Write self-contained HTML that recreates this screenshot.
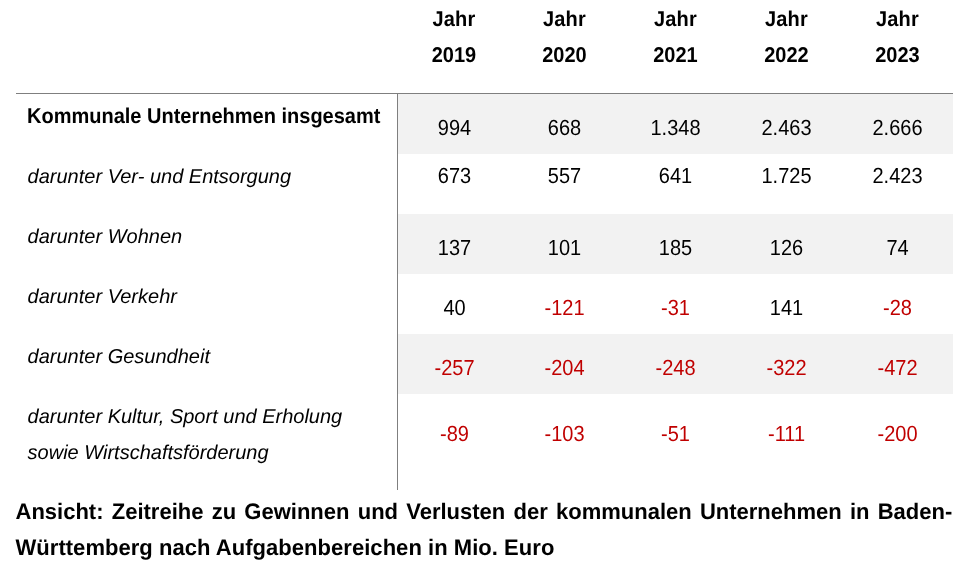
<!DOCTYPE html>
<html lang="de"><head><meta charset="utf-8"><title>Kommunale Unternehmen</title>
<style>
html,body{margin:0;padding:0;background:#fff;}
body{width:976px;height:565px;position:relative;overflow:hidden;font-family:"Liberation Sans",sans-serif;color:#000;text-rendering:geometricPrecision;}
.t{position:absolute;white-space:nowrap;font-size:20px;line-height:36px;transform-origin:0 24px;transform:scaleY(1.09);}
.c{width:120px;text-align:center;}
.b{font-weight:bold;transform:scaleY(1.07);}
.i{font-style:italic;transform:none;}
.n{color:#c00000;}
.h{letter-spacing:0.15px;}
.sh{position:absolute;left:398px;width:555px;background:#f2f2f2;}
.hl{position:absolute;left:16px;top:93px;width:937px;height:1px;background:#7f7f7f;}
.vl{position:absolute;left:397px;top:93px;width:1px;height:397px;background:#7f7f7f;}
.cap{position:absolute;left:15.5px;width:936.8px;font-size:22px;line-height:36px;font-weight:bold;white-space:nowrap;transform-origin:0 25px;transform:scaleY(1.02);}
.j{text-align:justify;text-align-last:justify;}
</style></head><body>
<div class="sh" style="top:94px;height:60px"></div>
<div class="sh" style="top:214px;height:60px"></div>
<div class="sh" style="top:334px;height:60px"></div>
<div class="hl"></div><div class="vl"></div>
<div class="t c b h" style="left:394.0px;top:2px">Jahr</div>
<div class="t c b" style="left:394.0px;top:38px">2019</div>
<div class="t c b h" style="left:504.5px;top:2px">Jahr</div>
<div class="t c b" style="left:504.5px;top:38px">2020</div>
<div class="t c b h" style="left:615.5px;top:2px">Jahr</div>
<div class="t c b" style="left:615.5px;top:38px">2021</div>
<div class="t c b h" style="left:726.5px;top:2px">Jahr</div>
<div class="t c b" style="left:726.5px;top:38px">2022</div>
<div class="t c b h" style="left:837.5px;top:2px">Jahr</div>
<div class="t c b" style="left:837.5px;top:38px">2023</div>
<div class="t b" style="left:27px;top:99px">Kommunale Unternehmen insgesamt</div>
<div class="t c" style="left:394.5px;top:111px">994</div>
<div class="t c" style="left:504.5px;top:111px">668</div>
<div class="t c" style="left:615.5px;top:111px">1.348</div>
<div class="t c" style="left:726.5px;top:111px">2.463</div>
<div class="t c" style="left:837.5px;top:111px">2.666</div>
<div class="t i" style="left:27.6px;top:159px">darunter Ver- und Entsorgung</div>
<div class="t c" style="left:394.5px;top:159px">673</div>
<div class="t c" style="left:504.5px;top:159px">557</div>
<div class="t c" style="left:615.5px;top:159px">641</div>
<div class="t c" style="left:726.5px;top:159px">1.725</div>
<div class="t c" style="left:837.5px;top:159px">2.423</div>
<div class="t i" style="left:27.6px;top:219px">darunter Wohnen</div>
<div class="t c" style="left:394.5px;top:231px">137</div>
<div class="t c" style="left:504.5px;top:231px">101</div>
<div class="t c" style="left:615.5px;top:231px">185</div>
<div class="t c" style="left:726.5px;top:231px">126</div>
<div class="t c" style="left:837.5px;top:231px">74</div>
<div class="t i" style="left:27.6px;top:279px">darunter Verkehr</div>
<div class="t c" style="left:394.5px;top:291px">40</div>
<div class="t c n" style="left:504.5px;top:291px">-121</div>
<div class="t c n" style="left:615.5px;top:291px">-31</div>
<div class="t c" style="left:726.5px;top:291px">141</div>
<div class="t c n" style="left:837.5px;top:291px">-28</div>
<div class="t i" style="left:27.6px;top:339px">darunter Gesundheit</div>
<div class="t c n" style="left:394.5px;top:351px">-257</div>
<div class="t c n" style="left:504.5px;top:351px">-204</div>
<div class="t c n" style="left:615.5px;top:351px">-248</div>
<div class="t c n" style="left:726.5px;top:351px">-322</div>
<div class="t c n" style="left:837.5px;top:351px">-472</div>
<div class="t i" style="left:27.6px;top:399px">darunter Kultur, Sport und Erholung</div>
<div class="t c n" style="left:394.5px;top:417px">-89</div>
<div class="t c n" style="left:504.5px;top:417px">-103</div>
<div class="t c n" style="left:615.5px;top:417px">-51</div>
<div class="t c n" style="left:726.5px;top:417px">-111</div>
<div class="t c n" style="left:837.5px;top:417px">-200</div>
<div class="t i" style="left:27.6px;top:435px">sowie Wirtschaftsförderung</div>
<div class="cap j" style="top:494px">Ansicht: Zeitreihe zu Gewinnen und Verlusten der kommunalen Unternehmen in Baden-</div>
<div class="cap" style="top:530px;letter-spacing:0.04px">Württemberg nach Aufgabenbereichen in Mio. Euro</div>
</body></html>
